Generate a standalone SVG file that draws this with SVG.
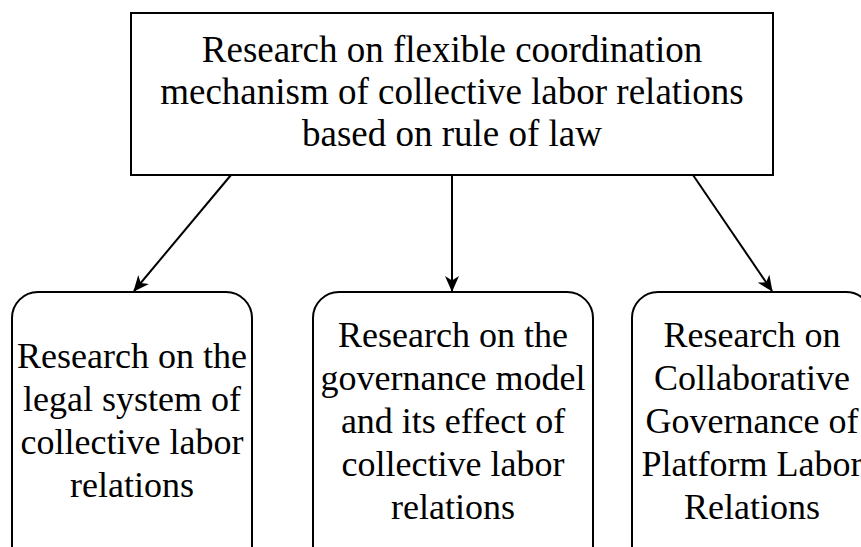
<svg xmlns="http://www.w3.org/2000/svg" width="861" height="547" viewBox="0 0 861 547">
<style>
.box{fill:#fff;stroke:#000;stroke-width:2}
.t{font-family:"Liberation Serif","Times New Roman",serif;font-size:36px;fill:#000;text-anchor:middle}
.tt{font-size:37px}
.c{stroke:#000;stroke-width:2;fill:none}
</style>
<defs>
<marker id="ah" viewBox="0 0 16 14" refX="15" refY="7" markerWidth="16" markerHeight="14" markerUnits="userSpaceOnUse" orient="auto">
<path d="M0,0 L16,7 L0,14 L4.5,7 Z" fill="#000"/>
</marker>
</defs>
<rect width="861" height="547" fill="#fff"/>
<g id="root">
<rect class="box" x="131" y="13" width="642" height="162"/>
<text class="t tt" x="452" y="62">Research on flexible coordination</text>
<text class="t tt" x="452" y="104">mechanism of collective labor relations</text>
<text class="t tt" x="452" y="146">based on rule of law</text>
</g>
<g id="left">
<rect class="box" x="12" y="292" width="240" height="280" rx="26" ry="26"/>
<text class="t" x="132" y="368">Research on the</text>
<text class="t" x="132" y="411">legal system of</text>
<text class="t" x="132" y="454">collective labor</text>
<text class="t" x="132" y="497">relations</text>
</g>
<g id="middle">
<rect class="box" x="313" y="292" width="280" height="280" rx="26" ry="26"/>
<text class="t" x="453" y="347">Research on the</text>
<text class="t" x="453" y="390">governance model</text>
<text class="t" x="453" y="433">and its effect of</text>
<text class="t" x="453" y="476">collective labor</text>
<text class="t" x="453" y="519">relations</text>
</g>
<g id="right">
<rect class="box" x="632" y="292" width="240" height="280" rx="26" ry="26"/>
<text class="t" x="752" y="347">Research on</text>
<text class="t" x="752" y="390">Collaborative</text>
<text class="t" x="752" y="433">Governance of</text>
<text class="t" x="752" y="476">Platform Labor</text>
<text class="t" x="752" y="519">Relations</text>
</g>
<g id="connectors">
<line class="c" x1="231" y1="175" x2="134" y2="291" marker-end="url(#ah)"/>
<line class="c" x1="452" y1="175" x2="452" y2="291" marker-end="url(#ah)"/>
<line class="c" x1="693" y1="175" x2="772" y2="291" marker-end="url(#ah)"/>
</g>
</svg>
